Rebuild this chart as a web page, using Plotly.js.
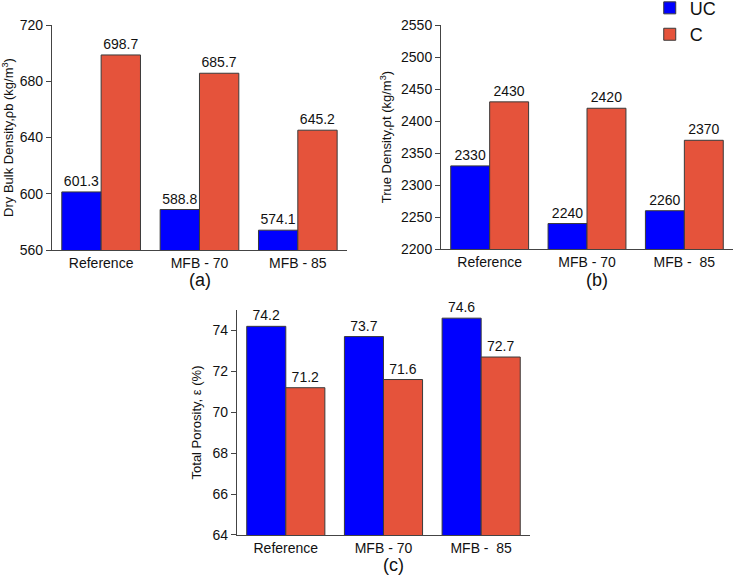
<!DOCTYPE html>
<html>
<head>
<meta charset="utf-8">
<script src="https://cdn.plot.ly/plotly-3.0.1.min.js"></script>
<style>
  html, body { margin: 0; padding: 0; background: #fff; }
  #chart { width: 735px; height: 575px; }
</style>
</head>
<body>
<div id="chart"></div>
<script>
// Sample groups
const catsA = ["Reference", "MFB - 70", "MFB - 85"];
const catsBC = ["Reference", "MFB - 70", "MFB -\u00a0 85"];

// (a) Dry bulk density (kg/m3)
const bulkUC = [601.3, 588.8, 574.1];
const bulkC = [698.7, 685.7, 645.2];

// (b) True density (kg/m3)
const trueUC = [2330, 2240, 2260];
const trueC = [2430, 2420, 2370];

// (c) Total porosity (%)
const poroUC = [74.2, 73.7, 74.6];
const poroC = [71.2, 71.6, 72.7];

const BLUE = "#0000ff";
const RED = "#e5533b";
const FONT = "Liberation Sans, Arial, sans-serif";

function barTrace(cats, vals, name, color, xa, ya, show, fmt) {
  return {
    type: "bar",
    x: cats,
    y: vals,
    name: name,
    xaxis: xa,
    yaxis: ya,
    showlegend: show,
    legendgroup: name,
    marker: { color: color, line: { color: "#3a3a3a", width: 1 } },
    text: vals.map(fmt),
    textposition: "outside",
    cliponaxis: false,
    textfont: { family: FONT, size: 14, color: "#111" },
    hoverinfo: "x+y"
  };
}

const f1 = v => v.toFixed(1);
const f0 = v => String(v);

const data = [
  barTrace(catsA, bulkUC, "UC", BLUE, "x", "y", true, f1),
  barTrace(catsA, bulkC, "C", RED, "x", "y", true, f1),
  barTrace(catsBC, trueUC, "UC", BLUE, "x2", "y2", false, f0),
  barTrace(catsBC, trueC, "C", RED, "x2", "y2", false, f0),
  barTrace(catsBC, poroUC, "UC", BLUE, "x3", "y3", false, f1),
  barTrace(catsBC, poroC, "C", RED, "x3", "y3", false, f1)
];

const xBase = {
  type: "category",
  range: [-0.5, 2.5],
  showline: true,
  linecolor: "#444",
  linewidth: 1,
  ticks: "",
  showgrid: false,
  zeroline: false,
  tickfont: { family: FONT, size: 14, color: "#111" },
  fixedrange: true
};
const yBase = {
  showline: true,
  linecolor: "#444",
  linewidth: 1,
  ticks: "outside",
  ticklen: 5,
  tickcolor: "#444",
  showgrid: false,
  zeroline: false,
  tickfont: { family: FONT, size: 14, color: "#111" },
  fixedrange: true
};
const titleFont = { family: FONT, size: 13, color: "#111" };

function yAxis(extra, titleText, standoff) {
  const a = Object.assign({}, yBase, extra);
  a.title = { text: titleText, standoff: standoff, font: titleFont };
  return a;
}

const labelFont = { family: FONT, size: 18, color: "#111" };

function panelLabel(text, px, py) {
  return {
    text: text, xref: "paper", yref: "paper",
    x: px / 735, y: 1 - py / 575,
    xanchor: "center", yanchor: "middle",
    showarrow: false, font: labelFont
  };
}

const layout = {
  width: 735,
  height: 575,
  margin: { l: 0, r: 0, t: 0, b: 0, autoexpand: false },
  paper_bgcolor: "#fff",
  plot_bgcolor: "rgba(0,0,0,0)",
  barmode: "group",
  bargap: 0.2,
  bargroupgap: 0,
  font: { family: FONT, color: "#111" },
  xaxis: Object.assign({}, xBase, { domain: [0.0707, 0.4721], anchor: "y" }),
  yaxis: yAxis({ domain: [0.5652, 0.9565], range: [560, 720], dtick: 40, anchor: "x" },
    "Dry Bulk Density,\u03c1b (kg/m<sup>3</sup>)", 6),
  xaxis2: Object.assign({}, xBase, { domain: [0.6, 0.9973], anchor: "y2" }),
  yaxis2: yAxis({ domain: [0.5667, 0.9565], range: [2200, 2550], dtick: 50, anchor: "x2" },
    "True Density,\u03c1t (kg/m<sup>3</sup>)", 6),
  xaxis3: Object.assign({}, xBase, { domain: [0.3224, 0.7211], anchor: "y3" }),
  yaxis3: yAxis({ domain: [0.0696, 0.4609], range: [64, 75], dtick: 2, tick0: 64, anchor: "x3" },
    "Total Porosity, \u03b5 (%)", 8),
  legend: {
    x: 0.884, y: 1.018, xanchor: "left", yanchor: "top",
    font: { family: FONT, size: 18, color: "#111" },
    bgcolor: "rgba(0,0,0,0)",
    tracegroupgap: 0,
    itemwidth: 30
  },
  annotations: [
    panelLabel("(a)", 200, 280),
    panelLabel("(b)", 597, 280),
    panelLabel("(c)", 393, 565)
  ]
};

Plotly.newPlot("chart", data, layout, { displayModeBar: false, staticPlot: true });
</script>
</body>
</html>
